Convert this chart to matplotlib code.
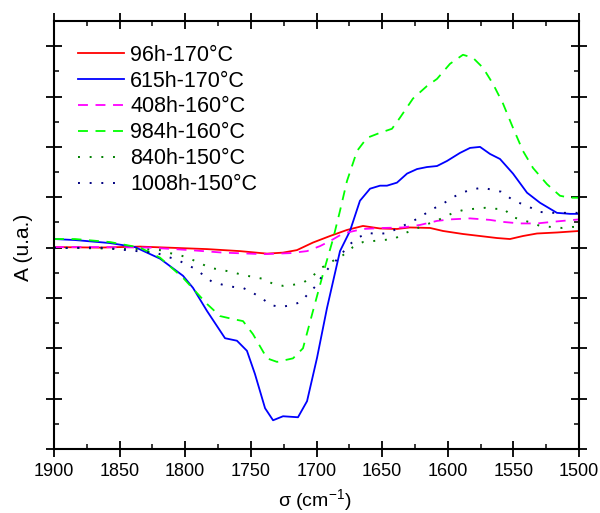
import matplotlib
matplotlib.use("Agg")
import matplotlib.pyplot as plt
from matplotlib.ticker import MultipleLocator, NullFormatter

plt.rcParams['font.family'] = ['Liberation Sans', 'DejaVu Sans']

# --- data (wavenumber cm-1, absorbance a.u.) ---
red_x = [1900, 1865, 1834.5, 1783.4, 1758.3, 1737.7, 1725.5, 1714.9, 1702.7, 1689.7, 1676.8,
         1664.6, 1651.6, 1638.7, 1628.8, 1613.5, 1603.6, 1588.4, 1575.4, 1562.5, 1552.6,
         1542.7, 1532, 1516.8, 1500]
red_y = [0.01, 0.00, 0.02, -0.03, -0.07, -0.12, -0.10, -0.05, 0.10, 0.23, 0.35,
         0.43, 0.38, 0.37, 0.40, 0.39, 0.33, 0.27, 0.23, 0.19, 0.17,
         0.23, 0.28, 0.30, 0.33]

blue_x = [1900, 1884, 1857.3, 1838.3, 1819.2, 1801.7, 1794.1, 1783.4, 1769.7, 1760.6, 1753,
          1746.9, 1739.2, 1733.1, 1725.5, 1714.1, 1707.2, 1699.6, 1692, 1682.1, 1674.5,
          1666.9, 1659.2, 1651.6, 1646.3, 1638.7, 1631, 1623.4, 1615.8, 1608.2, 1600.6,
          1590.7, 1583, 1575.4, 1567.8, 1560.2, 1550.3, 1539.6, 1529.7, 1516.8, 1506.9, 1500]
blue_y = [0.17, 0.15, 0.09, 0.01, -0.22, -0.56, -0.80, -1.26, -1.80, -1.85, -2.05,
          -2.51, -3.19, -3.43, -3.35, -3.37, -3.05, -2.19, -1.20, -0.07, 0.33,
          0.93, 1.17, 1.23, 1.23, 1.29, 1.47, 1.56, 1.60, 1.62, 1.72,
          1.88, 1.98, 2.00, 1.86, 1.76, 1.47, 1.09, 0.89, 0.69, 0.67, 0.67]

magenta_x = [1900, 1865, 1826.9, 1796.4, 1771.2, 1740.8, 1720.2, 1707.2, 1697.3, 1689.7, 1679.8,
             1664.6, 1649.3, 1634.1, 1621.1, 1608.2, 1598.3, 1583, 1567.8, 1557.9, 1545,
             1532, 1516.8, 1500]
magenta_y = [0.01, 0.01, 0.00, -0.05, -0.10, -0.13, -0.11, -0.07, 0.03, 0.13, 0.28,
             0.37, 0.39, 0.40, 0.45, 0.53, 0.56, 0.58, 0.55, 0.51, 0.48,
             0.48, 0.52, 0.56]

green_x = [1900, 1884, 1857.3, 1834.5, 1819.2, 1801.7, 1783.4, 1773.5, 1763.6, 1756, 1748.4,
           1737.7, 1730.1, 1717.9, 1710.3, 1702.7, 1695, 1687.4, 1682.1, 1676.8, 1669.1,
           1661.5, 1651.6, 1642.5, 1636.4, 1626.5, 1615.8, 1608.2, 1598.3, 1588.4, 1580.8,
           1573.1, 1565.5, 1557.9, 1550.3, 1542.7, 1535, 1524.4, 1514.5, 1506.9, 1500]
green_y = [0.17, 0.17, 0.11, 0.00, -0.20, -0.60, -1.12, -1.36, -1.42, -1.46, -1.72,
           -2.20, -2.27, -2.20, -2.00, -1.26, -0.52, 0.17, 0.73, 1.32, 1.92,
           2.18, 2.28, 2.36, 2.58, 2.96, 3.21, 3.35, 3.65, 3.83, 3.77,
           3.57, 3.25, 2.86, 2.38, 1.92, 1.58, 1.26, 1.03, 0.99, 0.99]

gdot_x = [1900, 1834.5, 1819.2, 1811.6, 1804, 1796.4, 1781.1, 1773.5, 1765.1, 1756.8, 1740.8,
          1733.1, 1725.5, 1717.9, 1710.3, 1703.4, 1697.3, 1691.2, 1679.8, 1672.2, 1664.6,
          1657, 1649.3, 1640.9, 1634.1, 1626.5, 1618.9, 1611.2, 1603.6, 1596, 1587.6,
          1580, 1571.6, 1564, 1557.1, 1551, 1543.4, 1535.8, 1529.7, 1521.3, 1512.9, 1505.3, 1500]
gdot_y = [0.00, -0.03, -0.05, -0.11, -0.15, -0.22, -0.40, -0.44, -0.48, -0.54, -0.62,
          -0.72, -0.76, -0.74, -0.70, -0.58, -0.42, -0.32, -0.15, 0.01, 0.11,
          0.13, 0.15, 0.17, 0.27, 0.35, 0.43, 0.51, 0.59, 0.69, 0.75,
          0.77, 0.79, 0.77, 0.77, 0.61, 0.55, 0.49, 0.43, 0.41, 0.39, 0.41, 0.41]

bdot_x = [1900, 1865, 1836.8, 1821.5, 1813.9, 1806.3, 1798.7, 1792.6, 1786.5, 1779.6, 1771.2,
          1763.6, 1756, 1748.4, 1740.8, 1735.4, 1727, 1718.7, 1711.8, 1706.5, 1700.4,
          1696.6, 1691.2, 1685.9, 1675.2, 1669.1, 1660.8, 1653.1, 1645.5, 1631, 1623.4,
          1617.3, 1611.2, 1603.6, 1596.8, 1589.1, 1582.3, 1573.9, 1566.3, 1559.4, 1551.8,
          1545.7, 1538.1, 1530.5, 1522.1, 1514.5, 1506.9, 1500]
bdot_y = [-0.01, 0.00, -0.07, -0.11, -0.18, -0.24, -0.34, -0.42, -0.54, -0.68, -0.74,
          -0.78, -0.80, -0.90, -1.02, -1.14, -1.18, -1.14, -1.08, -0.92, -0.76,
          -0.60, -0.42, -0.28, 0.05, 0.19, 0.29, 0.27, 0.29, 0.47, 0.57,
          0.67, 0.77, 0.87, 0.99, 1.09, 1.15, 1.19, 1.15, 1.11, 0.97,
          0.89, 0.81, 0.71, 0.69, 0.69, 0.69, 0.69]

labels = ["96h-170°C", "615h-170°C", "408h-160°C", "984h-160°C", "840h-150°C", "1008h-150°C"]
x_ticks = [1900, 1850, 1800, 1750, 1700, 1650, 1600, 1550, 1500]

fig = plt.figure(figsize=(6.0, 5.13), dpi=100)
ax = fig.add_axes([0.09, 0.1248, 0.875, 0.8342])

lw = 1.3
ax.plot(red_x, red_y, color="#FF0000", lw=lw, label=labels[0])
ax.plot(blue_x, blue_y, color="#0000FF", lw=lw, label=labels[1])
ax.plot(magenta_x, magenta_y, color="#FF00FF", lw=lw, ls=(0, (5.5, 4.2)), label=labels[2])
ax.plot(green_x, green_y, color="#00FF00", lw=lw, ls=(0, (5.5, 4.2)), label=labels[3])
ax.plot(gdot_x, gdot_y, color="#008000", lw=1.4, ls=(0, (1, 5)), label=labels[4])
ax.plot(bdot_x, bdot_y, color="#000080", lw=1.4, ls=(0, (1, 5)), label=labels[5])

ax.set_xlim(1900, 1500)
ax.set_ylim(-4.0, 4.5)
ax.set_xticks(x_ticks)
ax.set_xticklabels([str(t) for t in x_ticks])
ax.xaxis.set_minor_locator(MultipleLocator(25))
ax.yaxis.set_major_locator(MultipleLocator(1))
ax.yaxis.set_minor_locator(MultipleLocator(0.5))
ax.yaxis.set_major_formatter(NullFormatter())

for s in ax.spines.values():
    s.set_linewidth(1.5)
ax.tick_params(which="major", direction="inout", length=11.5, width=1.3,
               top=True, right=True, labelsize=13, pad=4)
ax.tick_params(which="minor", direction="in", length=3.8, width=1.1,
               top=True, right=True)

ax.set_xlabel(r"σ (cm$^{\mathregular{-1}}$)", fontsize=14)
ax.xaxis.set_label_coords(0.496, -0.09)
ax.set_ylabel("A (u.a.)", fontsize=15)
ax.yaxis.set_label_coords(-0.04, 0.472)

leg = ax.legend(loc="upper left", bbox_to_anchor=(0.045, 0.945), frameon=False,
                fontsize=15.5, handlelength=2.17, handletextpad=0.27, labelspacing=0.23,
                borderpad=0, borderaxespad=0)

fig.savefig("out.png", dpi=100)
